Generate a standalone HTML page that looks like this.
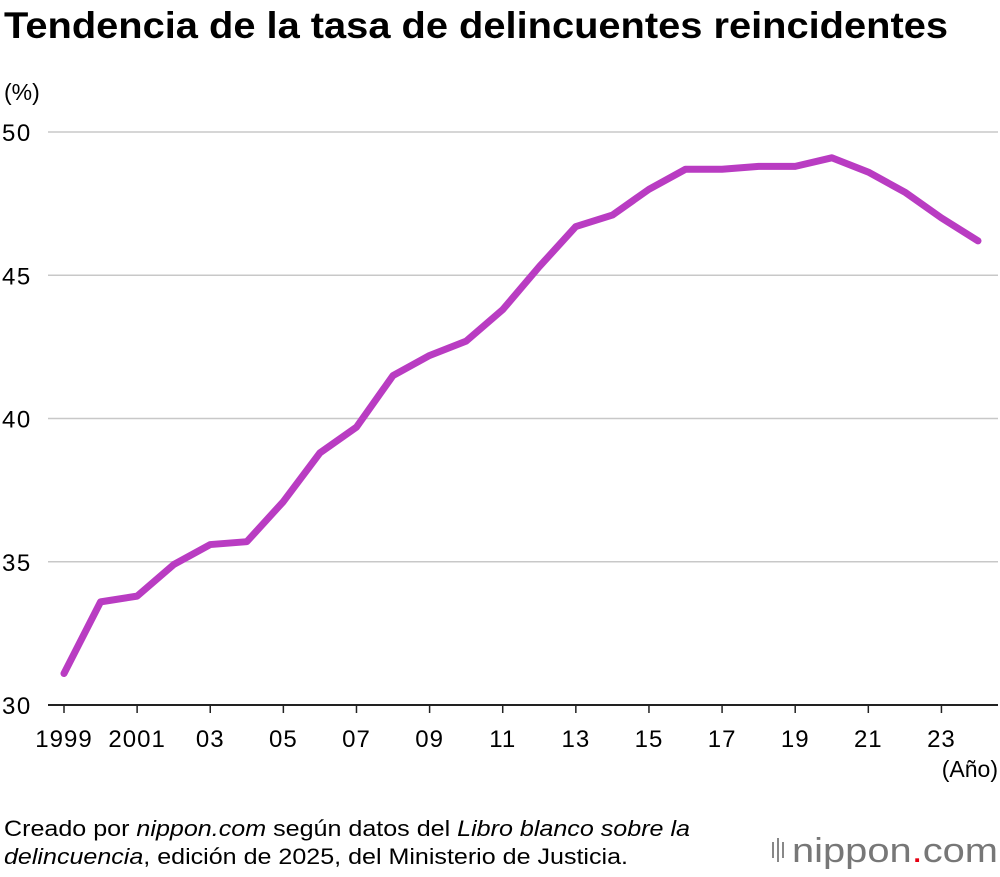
<!DOCTYPE html>
<html><head><meta charset="utf-8">
<style>
body{margin:0;background:#fff;width:1000px;height:872px;overflow:hidden;font-family:"Liberation Sans",sans-serif;}
</style></head>
<body>
<svg width="1000" height="872" xmlns="http://www.w3.org/2000/svg">
<text x="4" y="38" font-size="37" font-weight="bold" fill="#000" textLength="944" lengthAdjust="spacingAndGlyphs">Tendencia de la tasa de delincuentes reincidentes</text>
<text x="4" y="100" font-size="23" fill="#000">(%)</text>
<g id="grid"></g>
<g id="xt"></g>
<polyline id="line" fill="none" stroke="#b93cc2" stroke-width="7" stroke-linejoin="round" stroke-linecap="round"/>
<text x="998" y="777" font-size="23" text-anchor="end">(Año)</text>
<text x="4" y="836" font-size="22" textLength="686" lengthAdjust="spacingAndGlyphs">Creado por <tspan font-style="italic">nippon.com</tspan> según datos del <tspan font-style="italic">Libro blanco sobre la</tspan></text>
<text x="4" y="864" font-size="22" textLength="624" lengthAdjust="spacingAndGlyphs"><tspan font-style="italic">delincuencia</tspan>, edición de 2025, del Ministerio de Justicia.</text>
<g>
<rect x="772" y="842" width="2" height="16" fill="#888"/><rect x="777" y="838" width="2" height="24" fill="#888"/><rect x="782" y="842" width="2" height="16" fill="#888"/>
<text x="792" y="862" font-size="34" fill="#777" textLength="206" lengthAdjust="spacingAndGlyphs">nippon<tspan fill="#e60012">.</tspan>com</text>
</g>
</svg>
<script>
const years=[1999,2000,2001,2002,2003,2004,2005,2006,2007,2008,2009,2010,2011,2012,2013,2014,2015,2016,2017,2018,2019,2020,2021,2022,2023,2024];
const rates=[31.1,33.6,33.8,34.9,35.6,35.7,37.1,38.8,39.7,41.5,42.2,42.7,43.8,45.3,46.7,47.1,48.0,48.7,48.7,48.8,48.8,49.1,48.6,47.9,47.0,46.2];
const yTicks=[30,35,40,45,50];
const xTickYears=[1999,2001,2003,2005,2007,2009,2011,2013,2015,2017,2019,2021,2023];
const xTickLabels=["1999","2001","03","05","07","09","11","13","15","17","19","21","23"];
const NS="http://www.w3.org/2000/svg";
const xs=y=>64+(y-1999)*36.56;
const ys=v=>705-(v-30)*28.65;
const grid=document.getElementById('grid');
yTicks.forEach(t=>{
 const l=document.createElementNS(NS,'line');
 l.setAttribute('x1',48);l.setAttribute('x2',998);l.setAttribute('y1',ys(t));l.setAttribute('y2',ys(t));
 l.setAttribute('stroke',t===30?'#222':'#c8c8c8');l.setAttribute('stroke-width',t===30?2:1.5);
 
 
 grid.appendChild(l);
 const tx=document.createElementNS(NS,'text');
 tx.setAttribute('x',2);tx.setAttribute('y',ys(t)+9);tx.setAttribute('font-size',24);
 tx.setAttribute('letter-spacing',1.5);
 tx.textContent=t;
 
 
 grid.appendChild(tx);
});
const xt=document.getElementById('xt');
xTickYears.forEach((y,i)=>{
 const l=document.createElementNS(NS,'line');
 l.setAttribute('x1',xs(y));l.setAttribute('x2',xs(y));l.setAttribute('y1',705);l.setAttribute('y2',713);
 l.setAttribute('stroke','#222');l.setAttribute('stroke-width',1.5);
 
 
 xt.appendChild(l);
 const tx=document.createElementNS(NS,'text');
 tx.setAttribute('x',xs(y));tx.setAttribute('y',747);tx.setAttribute('font-size',24);tx.setAttribute('text-anchor','middle');
 tx.setAttribute('letter-spacing',1);
 tx.textContent=xTickLabels[i];
 
 
 xt.appendChild(tx);
});
document.getElementById('line').setAttribute('points',years.map((y,i)=>xs(y)+','+ys(rates[i])).join(' '));
</script>
</body></html>
